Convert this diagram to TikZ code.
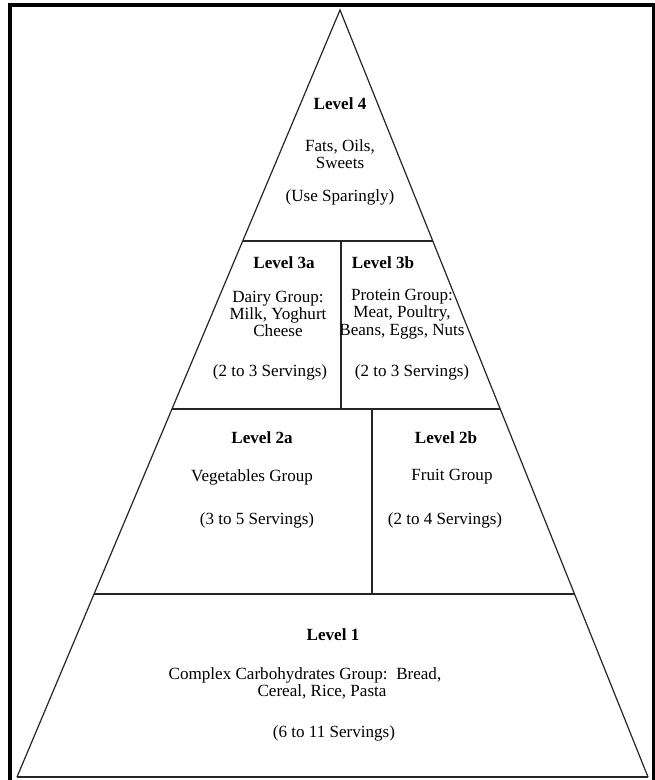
\documentclass[tikz,border=0pt]{standalone}
\usepackage{fontspec}
\setmainfont{Liberation Serif}
\usetikzlibrary{calc}
\tikzset{
  edge/.style={draw=black!85, line width=0.9pt},
  txt/.style={inner sep=0pt, font=\fontsize{12.8}{13}\selectfont, align=center},
  ttl/.style={inner sep=0pt, font=\fontsize{12.8}{13}\selectfont\bfseries},
}
\begin{document}
\begin{tikzpicture}[x=0.75pt,y=-0.75pt]
\useasboundingbox (0,0) rectangle (655,780);
\fill[white] (0,0) rectangle (655,780);
% outer frame
\draw[line width=2.3pt, black] (10,782) -- (10,5) -- (653.5,5) -- (653.5,782);
% pyramid
\coordinate (A) at (340,10);
\coordinate (BL) at (17,777);
\coordinate (BR) at (648,777);
\coordinate (L3l) at ($(A)!0.3012!(BL)$);
\coordinate (L3r) at ($(A)!0.3012!(BR)$);
\coordinate (L2l) at ($(A)!0.5202!(BL)$);
\coordinate (L2r) at ($(A)!0.5202!(BR)$);
\coordinate (L1l) at ($(A)!0.7614!(BL)$);
\coordinate (L1r) at ($(A)!0.7614!(BR)$);
\coordinate (V3t) at (341,241);
\coordinate (V3b) at (341,409);
\coordinate (V2t) at (372,409);
\coordinate (V2b) at (372,594);
\draw[edge] (BL) -- (A) -- (BR);
\draw[edge, line width=1.3pt] (BL) -- (BR);
\draw[edge] (L3l) -- (L3r);
\draw[edge] (L2l) -- (L2r);
\draw[edge] (L1l) -- (L1r);
\draw[edge] (V3t) -- (V3b);
\draw[edge] (V2t) -- (V2b);
% Level 4
\node[ttl] (t4) at (340,104) {Level 4};
\node[txt] (b4) at (340,154) {Fats, Oils,\\Sweets};
\node[txt] (s4) at (340,197) {(Use Sparingly)};
% Level 3a
\node[ttl] (t3a) at (284,263) {Level 3a};
\node[txt] (b3a) at (278,314) {Dairy Group:\\Milk, Yoghurt\\Cheese};
\node[txt] (s3a) at (270,372) {(2 to 3 Servings)};
% Level 3b
\node[ttl] (t3b) at (383,263) {Level 3b};
\node[txt] (b3b) at (402,314) {Protein Group:\\Meat, Poultry,\\Beans, Eggs, Nuts};
\node[txt] (s3b) at (412,372) {(2 to 3 Servings)};
% Level 2a
\node[ttl] (t2a) at (262,438) {Level 2a};
\node[txt] (b2a) at (252,477) {Vegetables Group};
\node[txt] (s2a) at (257,520) {(3 to 5 Servings)};
% Level 2b
\node[ttl] (t2b) at (446,438) {Level 2b};
\node[txt] (b2b) at (452,477) {Fruit Group};
\node[txt] (s2b) at (445,520) {(2 to 4 Servings)};
% Level 1
\node[ttl] (t1) at (333,635) {Level 1};
\node[txt] (b1a) at (305,675) {Complex Carbohydrates Group:\ \ Bread,};
\node[txt] (b1b) at (322,692) {Cereal, Rice, Pasta};
\node[txt] (s1) at (334,733) {(6 to 11 Servings)};
\end{tikzpicture}
\end{document}
